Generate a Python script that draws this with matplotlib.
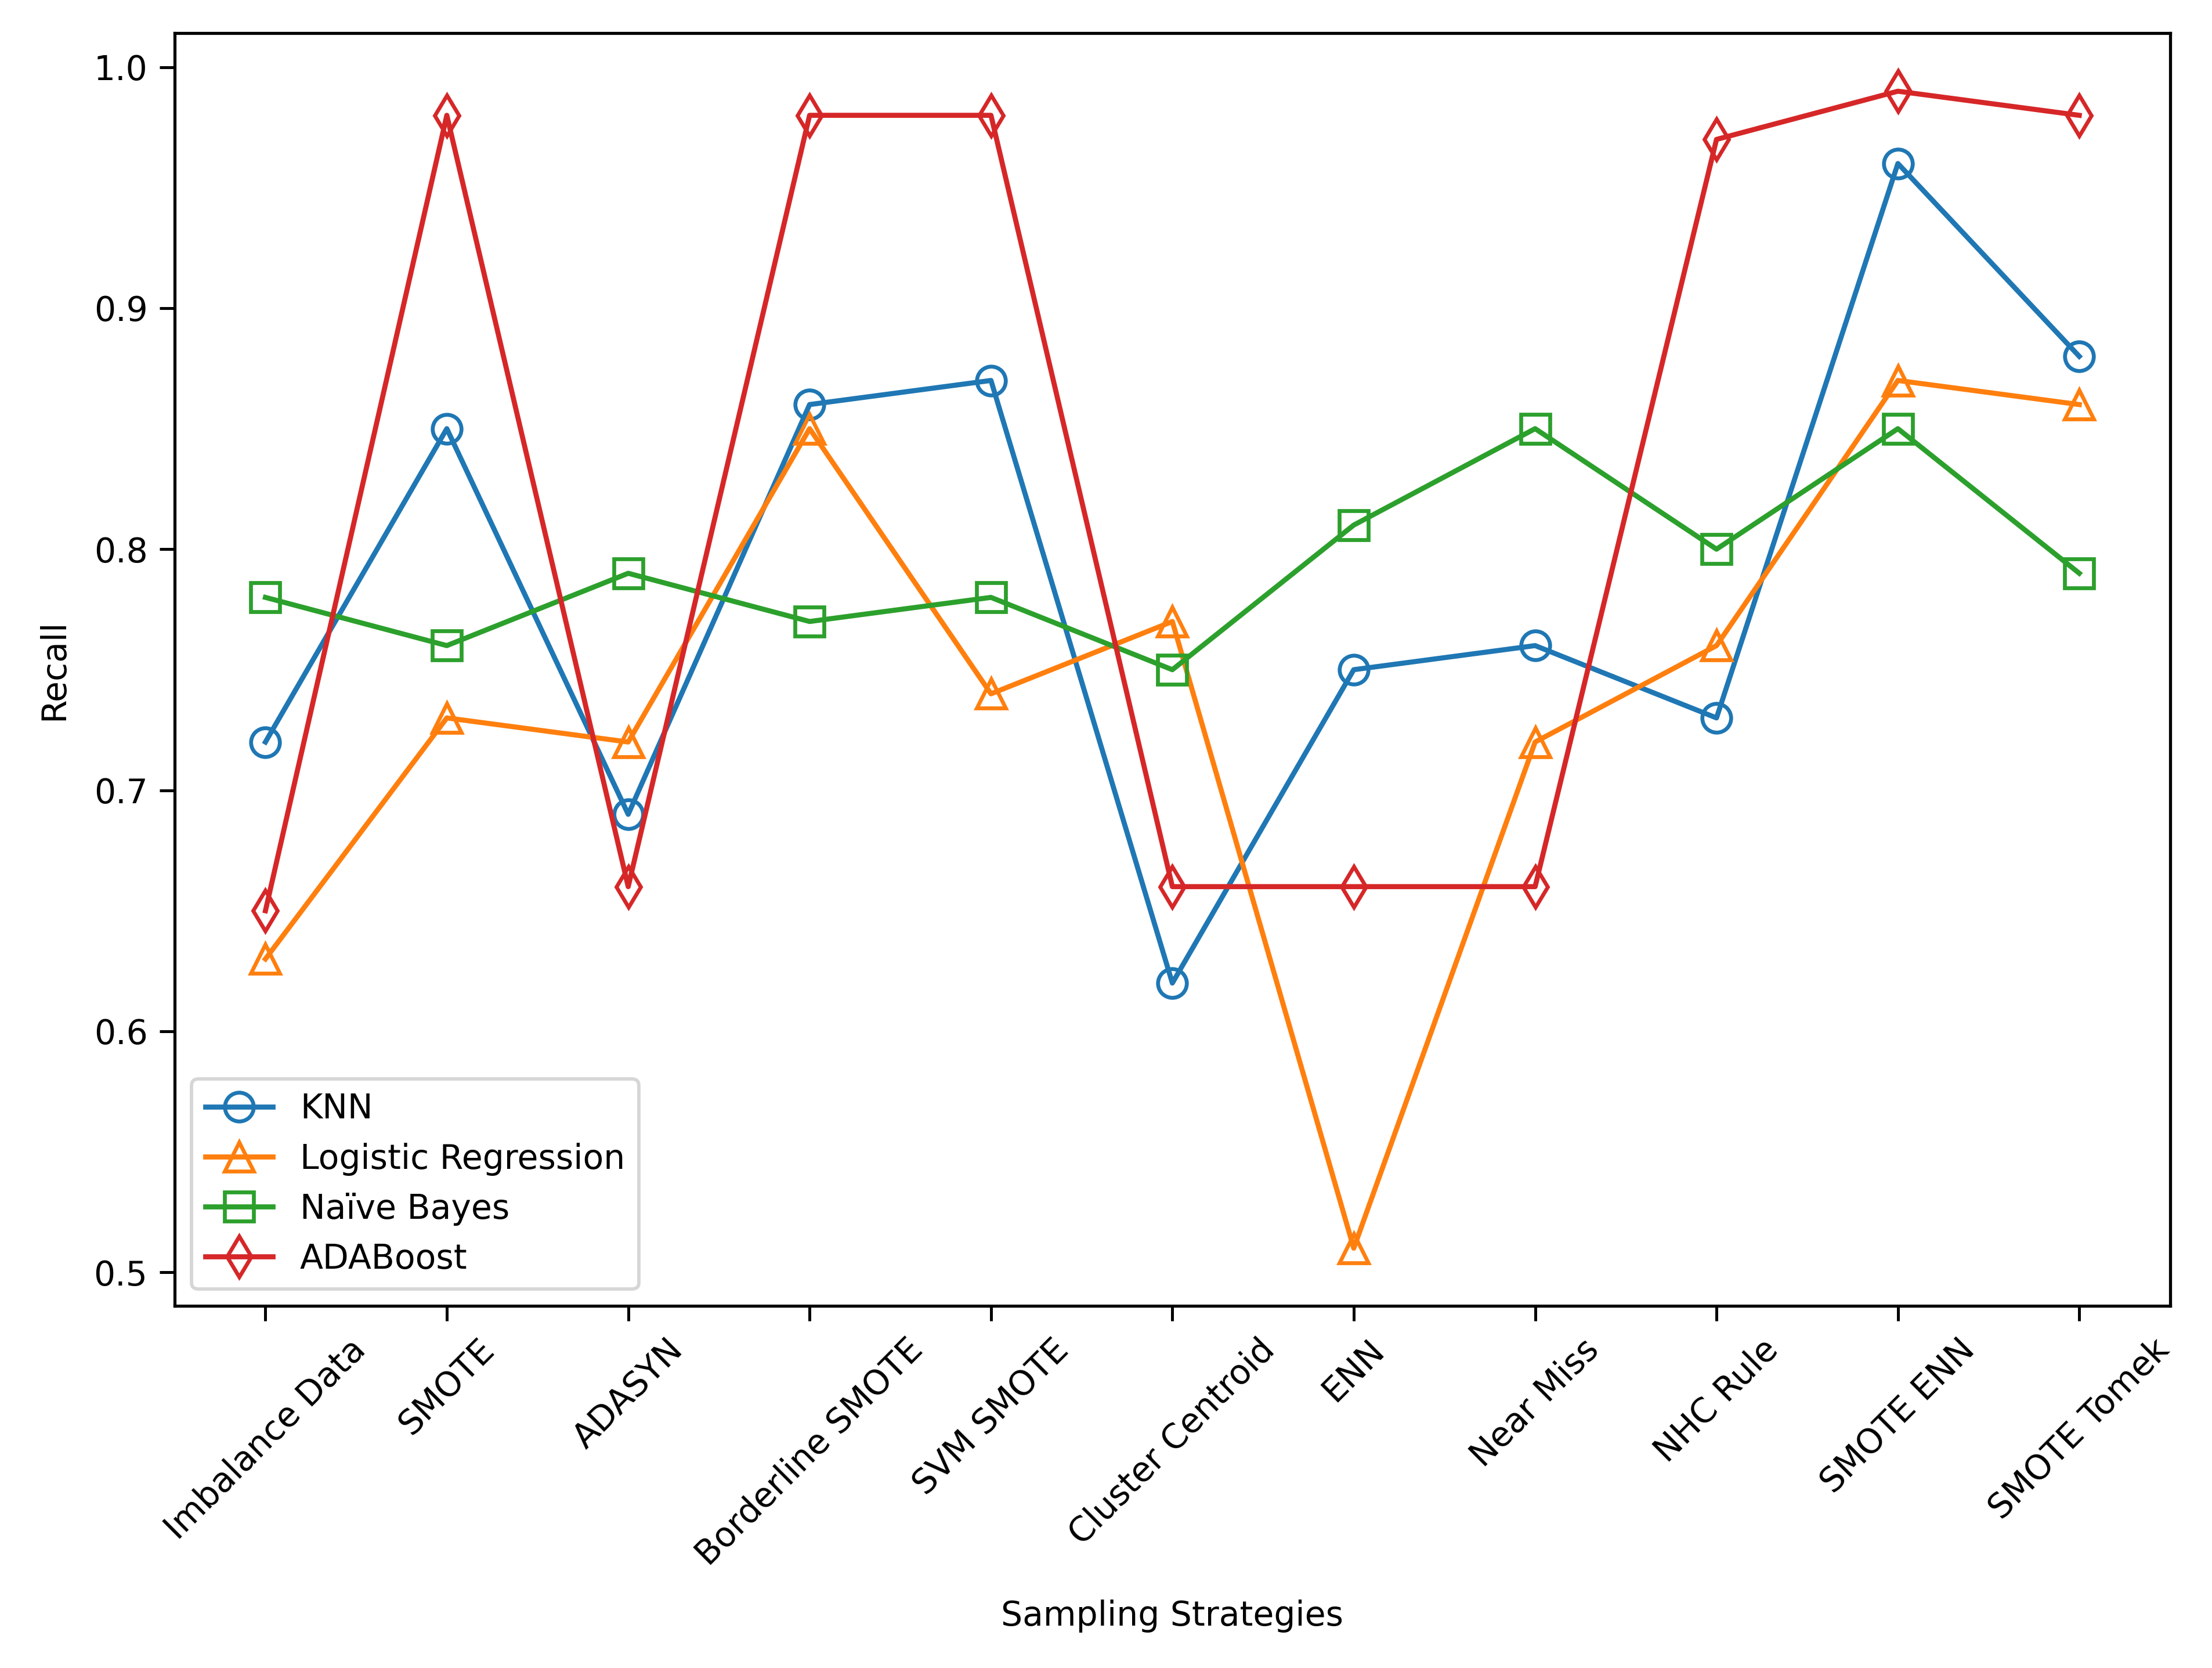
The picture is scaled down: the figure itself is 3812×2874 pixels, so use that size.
import matplotlib
matplotlib.use("Agg")
import matplotlib.pyplot as plt

strategies = ["Imbalance Data", "SMOTE", "ADASYN", "Borderline SMOTE", "SVM SMOTE",
              "Cluster Centroid", "ENN", "Near Miss", "NHC Rule", "SMOTE ENN", "SMOTE Tomek"]
knn = [0.72, 0.85, 0.69, 0.86, 0.87, 0.62, 0.75, 0.76, 0.73, 0.96, 0.88]
logreg = [0.63, 0.73, 0.72, 0.85, 0.74, 0.77, 0.51, 0.72, 0.76, 0.87, 0.86]
naive_bayes = [0.78, 0.76, 0.79, 0.77, 0.78, 0.75, 0.81, 0.85, 0.80, 0.85, 0.79]
adaboost = [0.65, 0.98, 0.66, 0.98, 0.98, 0.66, 0.66, 0.66, 0.97, 0.99, 0.98]

series = [("KNN", knn, "o"), ("Logistic Regression", logreg, "^"),
          ("Naïve Bayes", naive_bayes, "s"), ("ADABoost", adaboost, "d")]

DPI = 420
fig = plt.figure(figsize=(3812/DPI, 2874/DPI), dpi=DPI)
ax = fig.add_axes([0.079, 0.217, 0.902, 0.763])
x = list(range(len(strategies)))
for name, vals, m in series:
    ax.plot(x, vals, marker=m, markerfacecolor="none", markersize=8.5,
            markeredgewidth=1.15, linewidth=1.5, label=name)
ax.set_xticks(x)
ax.set_xticklabels(strategies, rotation=45)
ax.tick_params(length=4.5, width=0.85)
for s in ax.spines.values():
    s.set_linewidth(0.9)
ax.set_xlabel("Sampling Strategies", labelpad=8)
ax.set_ylabel("Recall", labelpad=7)
ax.legend(loc="lower left")
fig.savefig("out.png", dpi=DPI)
